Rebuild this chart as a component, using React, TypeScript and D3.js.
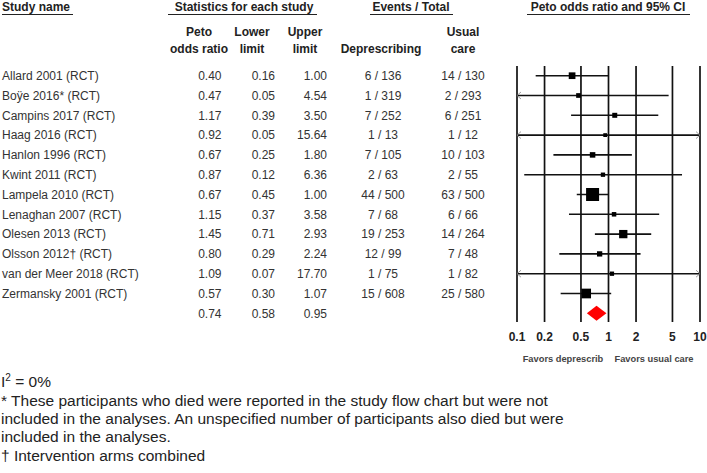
import React, { useEffect, useRef } from 'react';
import * as d3 from 'd3';

const WIDTH = 707;
const HEIGHT = 473;

// study rows
const studies = [
  'Allard 2001 (RCT)', 'Boÿe 2016* (RCT)', 'Campins 2017 (RCT)', 'Haag 2016 (RCT)',
  'Hanlon 1996 (RCT)', 'Kwint 2011 (RCT)', 'Lampela 2010 (RCT)', 'Lenaghan 2007 (RCT)',
  'Olesen 2013 (RCT)', 'Olsson 2012† (RCT)', 'van der Meer 2018 (RCT)', 'Zermansky 2001 (RCT)',
];
const oddsRatio = [0.40, 0.47, 1.17, 0.92, 0.67, 0.87, 0.67, 1.15, 1.45, 0.80, 1.09, 0.57];
const lowerLimit = [0.16, 0.05, 0.39, 0.05, 0.25, 0.12, 0.45, 0.37, 0.71, 0.29, 0.07, 0.30];
const upperLimit = [1.00, 4.54, 3.50, 15.64, 1.80, 6.36, 1.00, 3.58, 2.93, 2.24, 17.70, 1.07];
const deprescribing = ['6 / 136', '1 / 319', '7 / 252', '1 / 13', '7 / 105', '2 / 63', '44 / 500', '7 / 68', '19 / 253', '12 / 99', '1 / 75', '15 / 608'];
const usualCare = ['14 / 130', '2 / 293', '6 / 251', '1 / 12', '10 / 103', '2 / 55', '63 / 500', '6 / 66', '14 / 264', '7 / 48', '1 / 82', '25 / 580'];
// relative weights (drive marker size)
const relWeight = [10.6, 5.2, 5.9, 3.4, 7.2, 4.4, 40, 4.8, 16.3, 6.6, 4.4, 22.3];

const pooled = { or: 0.74, lower: 0.58, upper: 0.95 };
const axisTicks = [0.1, 0.2, 0.5, 1, 2, 5, 10];

const footnotes = [
  '* These participants who died were reported in the study flow chart but were not',
  'included in the analyses. An unspecified number of participants also died but were',
  'included in the analyses.',
  '† Intervention arms combined',
];

const fmt = d3.format('.2f');
const FONT = 'Arial, "Liberation Sans", sans-serif';

const App = () => {
  const svgRef = useRef<SVGSVGElement | null>(null);

  useEffect(() => {
    document.body.style.margin = '0';
    if (!svgRef.current) return;
    const svg = d3.select(svgRef.current);
    svg.selectAll('*').remove();
    svg.attr('font-family', FONT);

    const x = d3.scaleLog().domain([0.1, 10]).range([517, 700]);
    const y = d3.scaleLinear().domain([0, studies.length]).range([75.7, 313.3]);
    const size = d3.scaleSqrt().domain([0, 40]).range([0, 13]);

    // column headers
    const headers = [
      { t: 'Study name', x: 2, anchor: 'start', u: [2, 73] },
      { t: 'Statistics for each study', x: 244, anchor: 'middle', u: [168, 317] },
      { t: 'Events / Total', x: 411, anchor: 'middle', u: [370, 453] },
      { t: 'Peto odds ratio and 95% CI', x: 608, anchor: 'middle', u: [527, 690] },
    ];
    const hg = svg.append('g');
    headers.forEach(h => {
      hg.append('text')
        .attr('x', h.x).attr('y', 11)
        .attr('text-anchor', h.anchor)
        .attr('font-size', '12px').attr('font-weight', 'bold').attr('fill', '#222')
        .text(h.t);
      hg.append('line')
        .attr('x1', h.u[0]).attr('x2', h.u[1]).attr('y1', 14.5).attr('y2', 14.5)
        .attr('stroke', '#222').attr('stroke-width', 1);
    });

    const subHeaders = [
      { x: 199, l1: 'Peto', l2: 'odds ratio' },
      { x: 252, l1: 'Lower', l2: 'limit' },
      { x: 305, l1: 'Upper', l2: 'limit' },
      { x: 381, l1: '', l2: 'Deprescribing' },
      { x: 463, l1: 'Usual', l2: 'care' },
    ];
    subHeaders.forEach(s => {
      hg.append('text').attr('x', s.x).attr('y', 36).attr('text-anchor', 'middle')
        .attr('font-size', '12px').attr('font-weight', 'bold').attr('fill', '#222').text(s.l1);
      hg.append('text').attr('x', s.x).attr('y', 52.5).attr('text-anchor', 'middle')
        .attr('font-size', '12px').attr('font-weight', 'bold').attr('fill', '#222').text(s.l2);
    });

    // table rows
    const rows = svg.append('g').attr('font-size', '12px').attr('fill', '#333');
    studies.forEach((name, i) => {
      const yy = y(i) + 4.3;
      rows.append('text').attr('x', 2).attr('y', yy).text(name);
      rows.append('text').attr('x', 221.5).attr('y', yy).attr('text-anchor', 'end').text(fmt(oddsRatio[i]));
      rows.append('text').attr('x', 275).attr('y', yy).attr('text-anchor', 'end').text(fmt(lowerLimit[i]));
      rows.append('text').attr('x', 327).attr('y', yy).attr('text-anchor', 'end').text(fmt(upperLimit[i]));
      rows.append('text').attr('x', 383).attr('y', yy).attr('text-anchor', 'middle').text(deprescribing[i]);
      rows.append('text').attr('x', 463).attr('y', yy).attr('text-anchor', 'middle').text(usualCare[i]);
    });
    const py = y(studies.length) + 4.3;
    rows.append('text').attr('x', 221.5).attr('y', py).attr('text-anchor', 'end').text(fmt(pooled.or));
    rows.append('text').attr('x', 275).attr('y', py).attr('text-anchor', 'end').text(fmt(pooled.lower));
    rows.append('text').attr('x', 327).attr('y', py).attr('text-anchor', 'end').text(fmt(pooled.upper));

    // forest plot grid
    const plot = svg.append('g');
    plot.selectAll('.grid')
      .data(axisTicks)
      .enter()
      .append('line')
      .attr('x1', d => x(d)).attr('x2', d => x(d))
      .attr('y1', 66).attr('y2', 322)
      .attr('stroke', '#111').attr('stroke-width', 1.7);

    plot.selectAll('.tick-label')
      .data(axisTicks)
      .enter()
      .append('text')
      .attr('x', d => x(d)).attr('y', 340.5)
      .attr('text-anchor', 'middle')
      .attr('font-size', '12px').attr('font-weight', 'bold').attr('fill', '#222')
      .text(d => String(d));

    // CI lines and markers
    const [xmin, xmax] = x.domain();
    studies.forEach((_, i) => {
      const yy = y(i);
      const lo = Math.max(lowerLimit[i], xmin);
      const hi = Math.min(upperLimit[i], xmax);
      plot.append('line')
        .attr('x1', x(lo)).attr('x2', x(hi)).attr('y1', yy).attr('y2', yy)
        .attr('stroke', '#111').attr('stroke-width', 1.6);
      if (lowerLimit[i] < xmin) {
        plot.append('path')
          .attr('d', `M${x(xmin) + 4},${yy - 3.5}L${x(xmin)},${yy}L${x(xmin) + 4},${yy + 3.5}`)
          .attr('fill', 'none').attr('stroke', '#888').attr('stroke-width', 0.8);
      }
      if (upperLimit[i] > xmax) {
        plot.append('path')
          .attr('d', `M${x(xmax) - 4},${yy - 3.5}L${x(xmax)},${yy}L${x(xmax) - 4},${yy + 3.5}`)
          .attr('fill', 'none').attr('stroke', '#888').attr('stroke-width', 0.8);
      }
      const s = Math.max(size(relWeight[i]), 3.5);
      plot.append('rect')
        .attr('x', x(oddsRatio[i]) - s / 2).attr('y', yy - s / 2)
        .attr('width', s).attr('height', s)
        .attr('fill', '#000');
    });

    // pooled diamond
    const dy = y(studies.length);
    plot.append('path')
      .attr('d', `M${x(pooled.lower)},${dy}L${x(pooled.or)},${dy - 7.5}L${x(pooled.upper)},${dy}L${x(pooled.or)},${dy + 7.5}Z`)
      .attr('fill', '#ff0000');

    // favours labels
    plot.append('text').attr('x', 563).attr('y', 362).attr('text-anchor', 'middle')
      .attr('font-size', '9.3px').attr('font-weight', 'bold').attr('fill', '#444').text('Favors deprescrib');
    plot.append('text').attr('x', 654).attr('y', 362).attr('text-anchor', 'middle')
      .attr('font-size', '9.3px').attr('font-weight', 'bold').attr('fill', '#444').text('Favors usual care');

    // footnotes
    const notes = svg.append('g').attr('font-size', '15.5px').attr('fill', '#222');
    const i2 = notes.append('text').attr('x', 1).attr('y', 387);
    i2.append('tspan').text('I');
    i2.append('tspan').attr('font-size', '10px').attr('dy', -6.5).text('2');
    i2.append('tspan').attr('dy', 6.5).text(' = 0%');
    footnotes.forEach((t, i) => {
      notes.append('text').attr('x', 1).attr('y', 405.5 + i * 18.4).text(t);
    });
  }, []);

  return (
    <svg
      ref={svgRef}
      width={WIDTH}
      height={HEIGHT}
      style={{ position: 'absolute', left: 0, top: 0, background: '#fff' }}
    />
  );
};

export default App;
